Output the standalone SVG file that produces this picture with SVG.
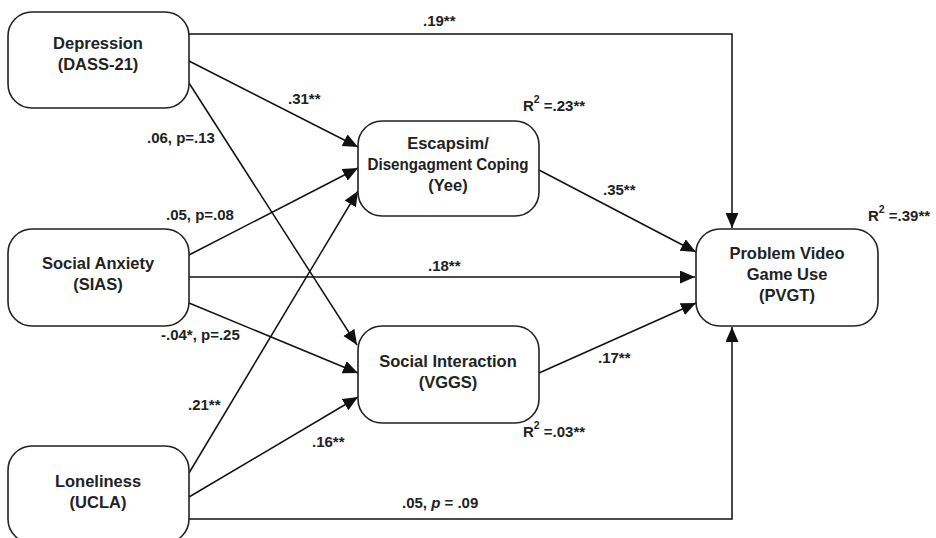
<svg xmlns="http://www.w3.org/2000/svg" width="936" height="538" viewBox="0 0 936 538">
<style>
.box{fill:#fff;stroke:#222;stroke-width:1.6}
.nt{font-family:"Liberation Sans",Arial,sans-serif;font-weight:bold;font-size:16.5px;fill:#222;text-anchor:middle}
.lb{font-family:"Liberation Sans",Arial,sans-serif;font-weight:bold;font-size:15px;fill:#222}
.ln{fill:none;stroke:#111;stroke-width:1.5}
.sup{font-size:10.5px}
</style>
<defs>
<marker id="ah" markerUnits="userSpaceOnUse" markerWidth="16" markerHeight="14" refX="15" refY="6.5" orient="auto">
<path d="M0,0 L15,6.5 L0,13 z" fill="#111"/>
</marker>
</defs>
<rect width="936" height="538" fill="#fff"/>
<g id="connectors">
<polyline class="ln" points="189,34 732,34 732,228" marker-end="url(#ah)"/>
<line class="ln" x1="189" y1="61" x2="358" y2="147" marker-end="url(#ah)"/>
<line class="ln" x1="189" y1="83" x2="357" y2="345" marker-end="url(#ah)"/>
<line class="ln" x1="189" y1="255" x2="358" y2="168" marker-end="url(#ah)"/>
<line class="ln" x1="189" y1="277" x2="695" y2="277" marker-end="url(#ah)"/>
<line class="ln" x1="189" y1="303" x2="358" y2="373" marker-end="url(#ah)"/>
<line class="ln" x1="189" y1="473" x2="358" y2="191" marker-end="url(#ah)"/>
<line class="ln" x1="189" y1="497" x2="358" y2="397" marker-end="url(#ah)"/>
<polyline class="ln" points="189,519 732,519 732,327" marker-end="url(#ah)"/>
<line class="ln" x1="539" y1="170" x2="696" y2="252" marker-end="url(#ah)"/>
<line class="ln" x1="539" y1="373" x2="696" y2="303" marker-end="url(#ah)"/>
</g>
<g id="labels">
<text class="lb" x="423" y="26">.19**</text>
<text class="lb" x="288" y="104">.31**</text>
<text class="lb" x="147" y="143">.06, p=.13</text>
<text class="lb" x="166" y="220">.05, p=.08</text>
<text class="lb" x="428" y="271">.18**</text>
<text class="lb" x="161" y="340">-.04*, p=.25</text>
<text class="lb" x="188" y="410">.21**</text>
<text class="lb" x="312" y="447">.16**</text>
<text class="lb" x="402" y="508">.05, <tspan font-style="italic">p</tspan> = .09</text>
<text class="lb" x="603" y="195">.35**</text>
<text class="lb" x="598" y="363">.17**</text>
<text class="lb" x="523" y="111">R<tspan class="sup" dy="-8">2</tspan><tspan dy="8"> =.23**</tspan></text>
<text class="lb" x="523" y="437">R<tspan class="sup" dy="-8">2</tspan><tspan dy="8"> =.03**</tspan></text>
<text class="lb" x="868" y="221">R<tspan class="sup" dy="-8">2</tspan><tspan dy="8"> =.39**</tspan></text>
</g>
<g id="depression">
<rect class="box" x="8" y="12" width="181" height="96" rx="24"/>
<text class="nt" x="98" y="49">Depression</text>
<text class="nt" x="98" y="70">(DASS-21)</text>
</g>
<g id="social-anxiety">
<rect class="box" x="8" y="229" width="181" height="97" rx="24"/>
<text class="nt" x="98" y="269">Social Anxiety</text>
<text class="nt" x="98" y="290">(SIAS)</text>
</g>
<g id="loneliness">
<rect class="box" x="8" y="446" width="181" height="97" rx="24"/>
<text class="nt" x="98" y="487">Loneliness</text>
<text class="nt" x="98" y="508">(UCLA)</text>
</g>
<g id="escapism">
<rect class="box" x="358" y="121" width="181" height="95" rx="24"/>
<text class="nt" x="448" y="149">Escapsim/</text>
<text class="nt" x="448" y="170" textLength="161" lengthAdjust="spacingAndGlyphs">Disengagment Coping</text>
<text class="nt" x="448" y="191">(Yee)</text>
</g>
<g id="social-interaction">
<rect class="box" x="358" y="326" width="181" height="97" rx="24"/>
<text class="nt" x="448" y="367">Social Interaction</text>
<text class="nt" x="448" y="388">(VGGS)</text>
</g>
<g id="pvgt">
<rect class="box" x="696" y="229" width="182" height="97" rx="24"/>
<text class="nt" x="787" y="259">Problem Video</text>
<text class="nt" x="787" y="280">Game Use</text>
<text class="nt" x="787" y="301">(PVGT)</text>
</g>
</svg>
